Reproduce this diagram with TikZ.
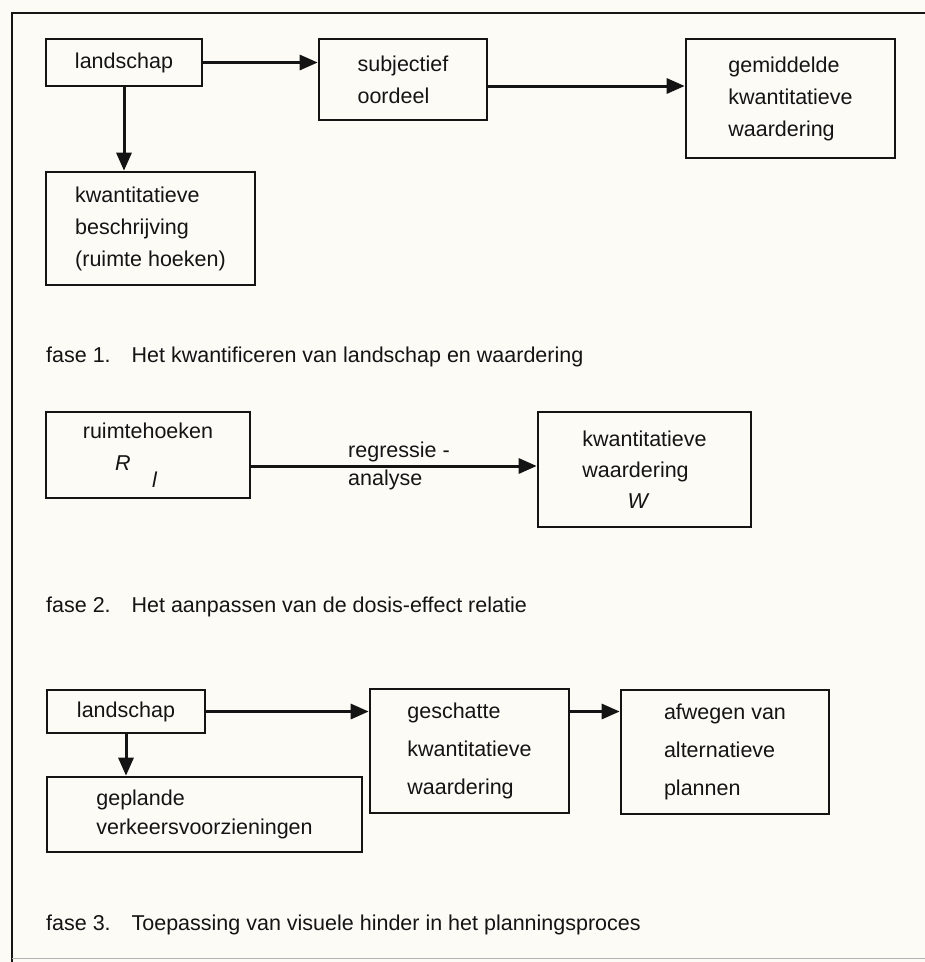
\documentclass[tikz,border=0pt]{standalone}
\usepackage{fontspec}
\setmainfont{Liberation Sans}
\usepackage{xcolor}
\usepackage{tikz}
\usetikzlibrary{arrows.meta,positioning}
\definecolor{paper}{RGB}{252,251,246}
\definecolor{ink}{RGB}{20,20,20}
\tikzset{box/.style={rectangle,draw=ink,line width=2.6pt,align=left,inner sep=0pt,text=ink,font=\fontsize{21.5}{32}\selectfont},
  fasetext/.style={anchor=west,inner sep=0pt,text=ink,font=\fontsize{21.5}{32}\selectfont},
  lbl/.style={align=left,inner sep=0pt,text=ink,font=\fontsize{21.5}{28}\selectfont},
  pijl/.style={->,ink,line width=3pt}}

\begin{document}
\begin{tikzpicture}[x=1pt,y=-1pt,>={Triangle[length=18pt,width=15pt]}]
        \fill[paper] (0,0) rectangle (925,962);
        \useasboundingbox (0,0) rectangle (925,962);
        \draw[ink,line width=2.2pt] (925,13) -- (12,13) -- (12,962);
        \draw[black!30,line width=1pt] (12,958) -- (925,958);

        % fase 1
        \node[box,minimum width=156pt,minimum height=47pt] (land1) at (124,62.5) {\raisebox{-3pt}{landschap}};
        \node[box,minimum width=168pt,minimum height=81pt] (subj) at (403,79.5) {subjectief\\oordeel};
        \node[box,minimum width=209pt,minimum height=119pt] (gem) at (790.5,98.5) {gemiddelde\\kwantitatieve\\waardering};
        \node[box,minimum width=209pt,minimum height=113pt] (kwb) at (150.5,228.5) {kwantitatieve\\beschrijving\\(ruimte hoeken)};
        \node[fasetext] (fase1) at (46,357) {fase 1.\hspace{0.6em} Het kwantificeren van landschap en waardering};

        % fase 2
        \node[box,minimum width=204pt,minimum height=86pt] (ruim) at (148,455) {ruimtehoeken\\\hspace*{1.5em}\textit{R}\hspace{1em}\raisebox{-0.8em}{\textit{l}}};
        \node[box,minimum width=213pt,minimum height=115pt,font=\fontsize{21.5}{31}\selectfont] (wkw) at (644.5,469.5) {kwantitatieve\\waardering\\\hspace*{2.1em}\textit{W}};
        \node[fasetext] (fase2) at (46,607) {fase 2.\hspace{0.6em} Het aanpassen van de dosis-effect relatie};

        % fase 3
        \node[box,minimum width=158pt,minimum height=43pt] (land3) at (126,711.5) {\raisebox{-3pt}{landschap}};
        \node[box,minimum width=315pt,minimum height=75pt,font=\fontsize{21.5}{29}\selectfont] (gepl) at (204.5,814.5) {geplande\\verkeersvoorzieningen};
        \node[box,minimum width=199pt,minimum height=124pt,font=\fontsize{21.5}{38}\selectfont] (gesch) at (469.5,751) {geschatte\\kwantitatieve\\waardering};
        \node[box,minimum width=208pt,minimum height=124pt,font=\fontsize{21.5}{38}\selectfont] (afw) at (725,752) {afwegen van\\alternatieve\\plannen};
        \node[fasetext] (fase3) at (46,925) {fase 3.\hspace{0.6em} Toepassing van visuele hinder in het planningsproces};

        \draw [pijl] (land1.east) to [] (land1.east -| subj.west);
        \draw [pijl] ([yshift=-6.5pt]subj.east) to [] ([yshift=-6.5pt]subj.east -| gem.west);
        \draw [pijl] (land1.south) to [] (land1.south |- kwb.north);
        \draw [pijl] ([yshift=-11pt]ruim.east) to [] node[lbl,xshift=5pt]{regressie -\\analyse} ([yshift=-11pt]ruim.east -| wkw.west);
        \draw [pijl] (land3.east) to [] (land3.east -| gesch.west);
        \draw [pijl] (land3.east -| gesch.east) to [] (land3.east -| afw.west);
        \draw [pijl] (land3.south) to [] (land3.south |- gepl.north);
    \end{tikzpicture}
\end{document}
